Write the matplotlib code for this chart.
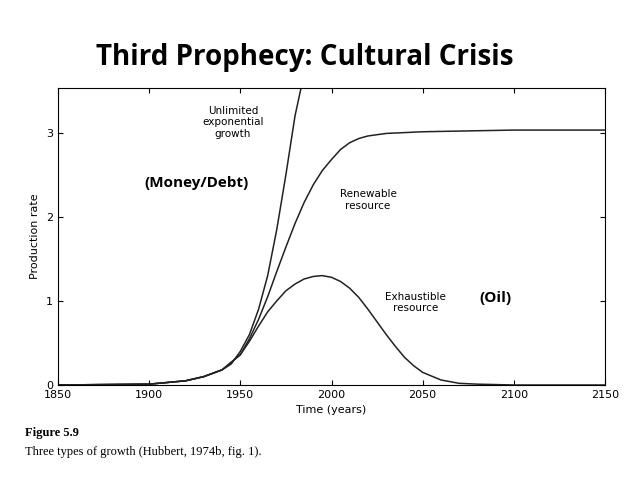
import numpy as np
import matplotlib.pyplot as plt

# values
exp_years = [1850, 1900, 1920, 1930, 1940, 1945, 1950, 1955, 1960, 1965, 1970, 1975, 1980, 1984]
exp_rate = [0, 0.01, 0.05, 0.1, 0.18, 0.25, 0.4, 0.6, 0.9, 1.3, 1.85, 2.5, 3.2, 3.6]

ren_years = [1850, 1900, 1920, 1930, 1940, 1950, 1955, 1960, 1965, 1970, 1975, 1980, 1985, 1990, 1995, 2000,
             2005, 2010, 2015, 2020, 2030, 2050, 2100, 2150]
ren_rate = [0, 0.01, 0.05, 0.1, 0.18, 0.36, 0.55, 0.78, 1.05, 1.35, 1.64, 1.92, 2.17, 2.38, 2.55, 2.68,
            2.8, 2.88, 2.93, 2.96, 2.99, 3.01, 3.03, 3.03]

exh_years = [1850, 1900, 1920, 1930, 1940, 1950, 1955, 1960, 1965, 1970, 1975, 1980, 1985, 1990, 1995, 2000,
             2005, 2010, 2015, 2020, 2025, 2030, 2035, 2040, 2045, 2050, 2060, 2070, 2080, 2100, 2150]
exh_rate = [0, 0.01, 0.05, 0.1, 0.18, 0.36, 0.52, 0.7, 0.87, 1.0, 1.12, 1.2, 1.26, 1.29, 1.3, 1.28,
            1.23, 1.15, 1.04, 0.9, 0.75, 0.6, 0.46, 0.33, 0.23, 0.15, 0.06, 0.02, 0.01, 0, 0]

fig = plt.figure(figsize=(6.4, 4.79), dpi=100)
ax = fig.add_axes([58 / 640, 1 - 385 / 479, 547 / 640, 297 / 479])

for yrs, r in [(exp_years, exp_rate), (ren_years, ren_rate), (exh_years, exh_rate)]:
    ax.plot(yrs, r, color="#222222", lw=1.1)

ax.set_xlim(1850, 2150)
ax.set_ylim(0, 3.53)
ax.set_xticks([1850, 1900, 1950, 2000, 2050, 2100, 2150])
ax.set_yticks([0, 1, 2, 3])
ax.tick_params(direction="in", top=True, right=True, labelsize=8)
ax.set_xlabel("Time (years)", fontsize=8)
ax.set_ylabel("Production rate", fontsize=8)

ax.text(1946, 3.12, "Unlimited\nexponential\ngrowth", fontsize=7.5, ha="center", va="center")
ax.text(1926, 2.4, "(Money/Debt)", fontsize=11, fontweight="bold", family="Open Sans",
        ha="center", va="center")
ax.text(2020, 2.2, "Renewable\nresource", fontsize=7.5, ha="center", va="center")
ax.text(2046, 0.98, "Exhaustible\nresource", fontsize=7.5, ha="center", va="center")
ax.text(2090, 1.03, "(Oil)", fontsize=11, fontweight="bold", family="Open Sans",
        ha="center", va="center")

fig.text(305 / 640, 1 - 58 / 479, "Third Prophecy: Cultural Crisis", fontsize=20,
         fontweight="bold", family="Open Sans", ha="center", va="center")
fig.text(25 / 640, 1 - 433 / 479, "Figure 5.9", fontsize=9, fontweight="bold",
         family="Liberation Serif", va="center")
fig.text(25 / 640, 1 - 452 / 479, "Three types of growth (Hubbert, 1974b, fig. 1).", fontsize=9,
         family="Liberation Serif", va="center")

fig.savefig("out.png", dpi=100)
